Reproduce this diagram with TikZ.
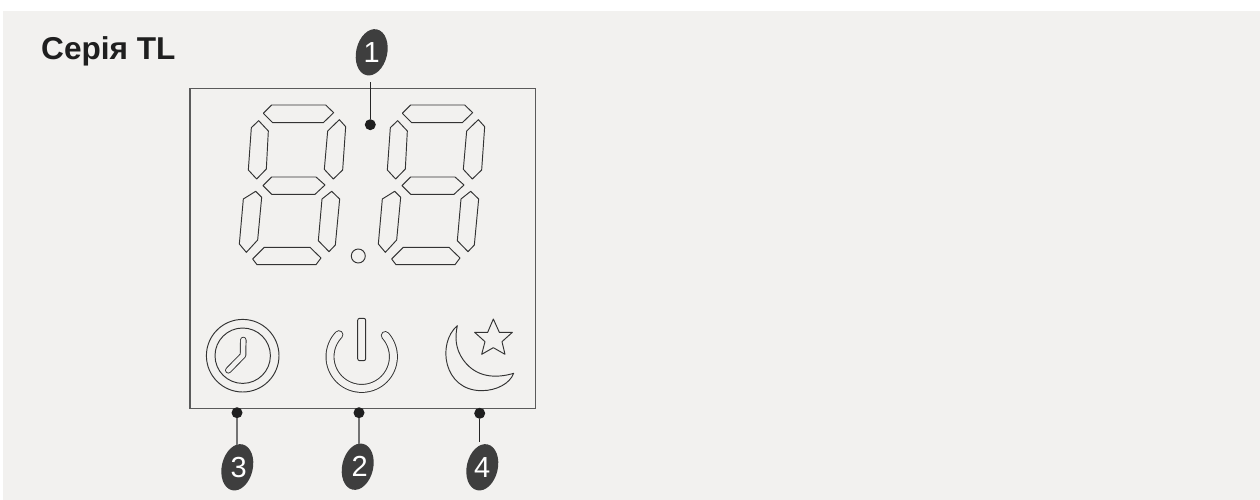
\documentclass[tikz,border=0pt]{standalone}
\usepackage{fontspec}
\setmainfont{Liberation Sans}
\usetikzlibrary{shapes.geometric}
\definecolor{panel}{HTML}{F2F1EF}
\definecolor{ink}{HTML}{333333}
\definecolor{badgefill}{HTML}{3E3E3E}
\definecolor{framecol}{HTML}{5A5A5A}
\tikzset{
  outline/.style={draw=ink,line width=.95pt,line join=round},
  hollow/.style={draw=ink,line width=.95pt,double=panel,line cap=round,line join=round},
  badge/.style={ellipse,fill=badgefill,text=white,rotate=-13,minimum width=31pt,minimum height=47pt,inner sep=0pt,font=\fontsize{29}{29}\selectfont},
  pin/.style={circle,fill=black!88,minimum size=11pt,inner sep=0pt},
  leaderdark/.style={draw=black!85,line width=1pt},
  leadergray/.style={draw=black!55,line width=1.3pt},
  sevenseg/.pic={
    \draw[outline] (250,280)--(275,255)--(437,255)--(461,278)--(430,308)--(278,308)--cycle;
    \draw[outline] (236,302)--(265,333)--(259,447)--(230,477)--(205,450)--(214,323)--cycle;
    \draw[outline] (478,299)--(497,320)--(488,450)--(460,477)--(433,448)--(443,333)--cycle;
    \draw[outline] (249,497)--(275,471)--(408,471)--(435,495)--(405,523)--(275,523)--cycle;
    \draw[outline] (227,514)--(245,532)--(233,660)--(199,697)--(178,672)--(190,537)--cycle;
    \draw[outline] (455,514)--(479,537)--(466,675)--(447,695)--(415,662)--(426,537)--cycle;
    \draw[outline] (218,717)--(253,682)--(390,682)--(423,714)--(408,734)--(231,734)--cycle;
  }
}
\begin{document}
\begin{tikzpicture}[x=1pt,y=-1pt]
\useasboundingbox (0,0) rectangle (1260,500);
\fill[panel] (3,11) rectangle (1260,500);
\node[anchor=base west,inner sep=0pt,text=black!88,font=\fontsize{31.6}{32}\selectfont\bfseries] (title) at (41,59.5) {Серія TL};
\node[draw=framecol,line width=1.2pt,minimum width=345.3pt,minimum height=319.6pt,inner sep=0pt,anchor=north west] (frame) at (189.3,88.3) {};
% seven-segment digits, drawn in 3x crop coordinates
\begin{scope}[shift={(180,20)},x=.33333pt,y=-.33333pt]
  \pic at (0,0) {sevenseg};
  \pic at (417,0) {sevenseg};
\end{scope}
\node[circle,draw=ink,line width=.95pt,minimum size=14pt,inner sep=0pt] (point) at (358.3,256) {};
% clock
\node[circle,draw=ink,line width=.95pt,minimum size=72.6pt,inner sep=0pt] (clockouter) at (242.7,355.7) {};
\node[circle,draw=ink,line width=.95pt,minimum size=55.4pt,inner sep=0pt] (clockinner) at (242.7,355.7) {};
\draw[hollow,double distance=4.6pt] (243.3,340)--(243,355.3)--(228.3,370.3);
% power
\draw[outline,rounded corners=2pt] (357.7,318.3) rectangle (365.7,360.7);
\draw[hollow,double distance=7pt] plot[domain=42:-224,samples=70] ({361.7+31.7*cos(\x)},{356.7-31.7*sin(\x)});
% moon and star
\begin{scope}[shift={(180,300)},x=.33333pt,y=-.33333pt]
  \draw[outline] (832,77) .. controls (770,130) and (790,272) .. (905,272)
     .. controls (950,272) and (990,250) .. (1001,220)
     .. controls (950,235) and (890,235) .. (850,180)
     .. controls (825,145) and (825,110) .. (832,77) -- cycle;
  \draw[outline] (940,57)--(958,97)--(997,97)--(966,125)--(975,163)--(940,143)--(905,163)--(915,125)--(884,97)--(923,97)--cycle;
\end{scope}
% callouts
\node[badge] (b1) at (371.7,52.3) {\makebox[0pt]{\rotatebox{13}{1}}};
\node[badge] (b2) at (357.7,466.7) {\makebox[0pt]{\rotatebox{13}{\hspace{4pt}2}}};
\node[badge] (b3) at (237.3,467.3) {\makebox[0pt]{\rotatebox{13}{\hspace{3pt}3}}};
\node[badge] (b4) at (482.3,467.3) {\makebox[0pt]{\rotatebox{13}{4}}};
\node[pin] (d1) at (370.3,124.7) {};
\node[pin] (d2) at (359,412.7) {};
\node[pin] (d3) at (237,412.7) {};
\node[pin] (d4) at (479.7,413.3) {};
\coordinate (e1) at (370.3,82.3);
\coordinate (e2) at (359,444);
\coordinate (e3) at (237,445);
\coordinate (e4) at (479.7,442);
\draw[leaderdark] (d1)--(e1);
\draw[leadergray] (d2)--(e2);
\draw[leadergray] (d3)--(e3);
\draw[leaderdark] (d4)--(e4);
\end{tikzpicture}
\end{document}
